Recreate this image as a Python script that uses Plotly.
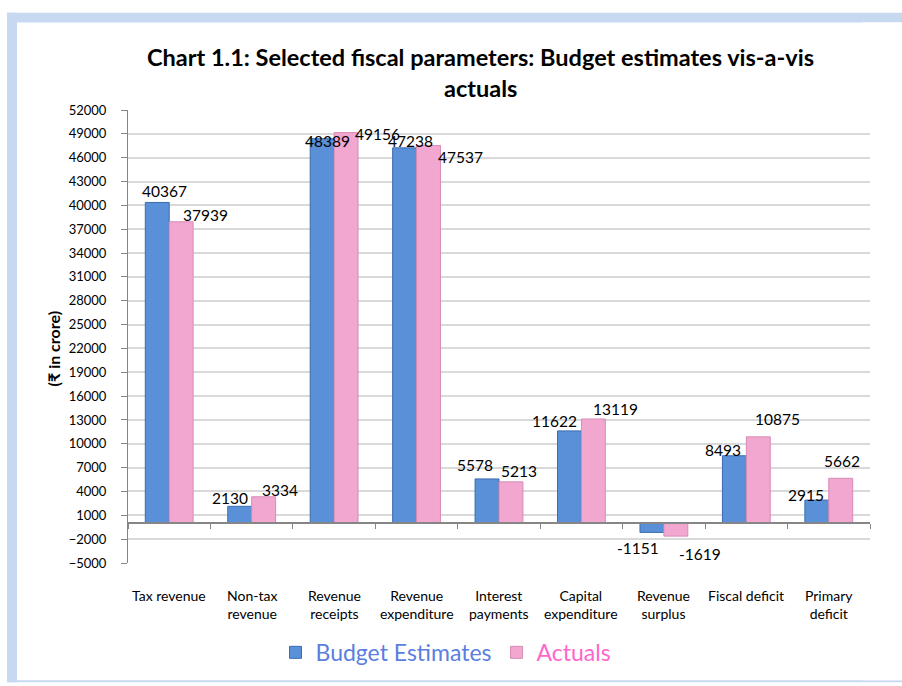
import plotly.graph_objects as go

categories = ["Tax revenue", "Non-tax revenue", "Revenue receipts", "Revenue expenditure",
              "Interest payments", "Capital expenditure", "Revenue surplus",
              "Fiscal deficit", "Primary deficit"]
category_labels = ["Tax revenue", "Non-tax<br>revenue", "Revenue<br>receipts", "Revenue<br>expenditure",
                   "Interest<br>payments", "Capital<br>expenditure", "Revenue<br>surplus",
                   "Fiscal deficit", "Primary<br>deficit"]
budget_estimates = [40367, 2130, 48389, 47238, 5578, 11622, -1151, 8493, 2915]
actuals = [37939, 3334, 49156, 47537, 5213, 13119, -1619, 10875, 5662]

y_min, y_max, y_step = -5000, 52000, 3000

title_lines = ["Chart 1.1: Selected fiscal parameters: Budget estimates vis-a-vis", "actuals"]

# label styling offsets (px): horizontal shift from bar centre, distance from bar end
budget_dx = [7, -10, 5, 6, -12, -15, -14, -11, -11]
budget_dy = [11, 8, -2, 7, 14, 10, 16, 6, 5]
actual_dx = [24, 16, 31, 32, 8, 22, 24, 19, 1]
actual_dy = [7, 7, -1, -12, 11, 10, 18, 18, 17]

W, H = 902, 686
ML, MR, MT, MB = 128, 32, 110, 120
PW, PH = W - ML - MR, H - MT - MB


def px_x(p):
    return (p - ML) / PW


def px_y(p):
    return (H - MB - p) / PH


BLUE = "#5990d8"
BLUE_EDGE = "#3b6cb0"
PINK = "#f1a7cf"
PINK_EDGE = "#d68cb6"
FRAME = "#c6d9f1"
FONT = "Lato, 'Open Sans', sans-serif"

fig = go.Figure()
fig.add_trace(go.Bar(
    x=categories, y=budget_estimates,
    name="<span style='color:#5b7ee0'>Budget Estimates</span>",
    marker=dict(color=BLUE, line=dict(color=BLUE_EDGE, width=1)),
))
fig.add_trace(go.Bar(
    x=categories, y=actuals,
    name="<span style='color:#ff66cc'>Actuals</span>",
    marker=dict(color=PINK, line=dict(color=PINK_EDGE, width=1)),
))

annotations = []
half_bar = PW / len(categories) * (1 - 0.42) / 4
for i, c in enumerate(categories):
    for vals, dxs, dys, side in ((budget_estimates, budget_dx, budget_dy, -1),
                                 (actuals, actual_dx, actual_dy, 1)):
        v = vals[i]
        sgn = 1 if v >= 0 else -1
        annotations.append(dict(
            x=c, y=v, xref="x", yref="y", text=str(v), showarrow=False,
            xanchor="center", yanchor="middle",
            xshift=side * half_bar + dxs[i], yshift=sgn * dys[i],
            font=dict(family=FONT, size=15.5, color="#000000"),
        ))
    annotations.append(dict(
        x=c, y=px_y(588), xref="x", yref="paper", text=category_labels[i],
        showarrow=False, xanchor="center", yanchor="top",
        font=dict(family=FONT, size=14, color="#000000"),
    ))

for line, py in zip(title_lines, (57, 88)):
    annotations.append(dict(
        x=px_x(480), y=px_y(py), xref="paper", yref="paper", text="<b>" + line + "</b>",
        showarrow=False, xanchor="center", yanchor="middle",
        font=dict(family=FONT, size=23.5, color="#000000"),
    ))

annotations.append(dict(
    x=px_x(53), y=px_y(351), xref="paper", yref="paper", text="<b>(₹ in crore)</b>",
    textangle=-90, showarrow=False, xanchor="center", yanchor="middle",
    font=dict(family=FONT, size=16, color="#000000"),
))

shapes = [
    # top band
    dict(type="rect", xref="paper", yref="paper", layer="below",
         x0=px_x(7), x1=px_x(W), y0=px_y(12), y1=px_y(22),
         fillcolor=FRAME, line=dict(width=0)),
    # left band
    dict(type="rect", xref="paper", yref="paper", layer="below",
         x0=px_x(7), x1=px_x(17), y0=px_y(12), y1=px_y(H),
         fillcolor=FRAME, line=dict(width=0)),
    # bottom line
    dict(type="rect", xref="paper", yref="paper", layer="below",
         x0=px_x(7), x1=px_x(W), y0=px_y(684), y1=px_y(H),
         fillcolor=FRAME, line=dict(width=0)),
    # keep right margin white
    dict(type="rect", xref="paper", yref="paper", layer="below",
         x0=px_x(W - 40), x1=px_x(W), y0=px_y(22), y1=px_y(684),
         fillcolor="#ffffff", line=dict(width=0)),
]

fig.update_layout(
    width=W, height=H,
    margin=dict(l=ML, r=MR, t=MT, b=MB),
    paper_bgcolor="#ffffff", plot_bgcolor="rgba(0,0,0,0)",
    barmode="group", bargap=0.42, bargroupgap=0,
    font=dict(family=FONT, color="#000000"),
    showlegend=True,
    legend=dict(orientation="h", x=px_x(446), y=px_y(656), xanchor="center", yanchor="middle",
                font=dict(family=FONT, size=23), bgcolor="rgba(0,0,0,0)"),
    annotations=annotations,
    shapes=shapes,
    xaxis=dict(
        type="category", anchor="free",
        position=(0 - y_min) / (y_max - y_min),
        showline=True, linecolor="#868686", linewidth=2,
        ticks="outside", tickson="boundaries", ticklen=5, tickcolor="#868686", tickwidth=1,
        showticklabels=False, showgrid=False, zeroline=False,
    ),
    yaxis=dict(
        range=[y_min, y_max], tick0=y_min, dtick=y_step, tickformat="d",
        showgrid=True, gridcolor="#d9d9d9", gridwidth=2,
        showline=True, linecolor="#868686", linewidth=1,
        ticks="outside", ticklen=6, tickcolor="#868686", ticklabelstandoff=12,
        zeroline=False,
        tickfont=dict(family=FONT, size=13, color="#000000"),
    ),
)

fig.write_html("out.html")
